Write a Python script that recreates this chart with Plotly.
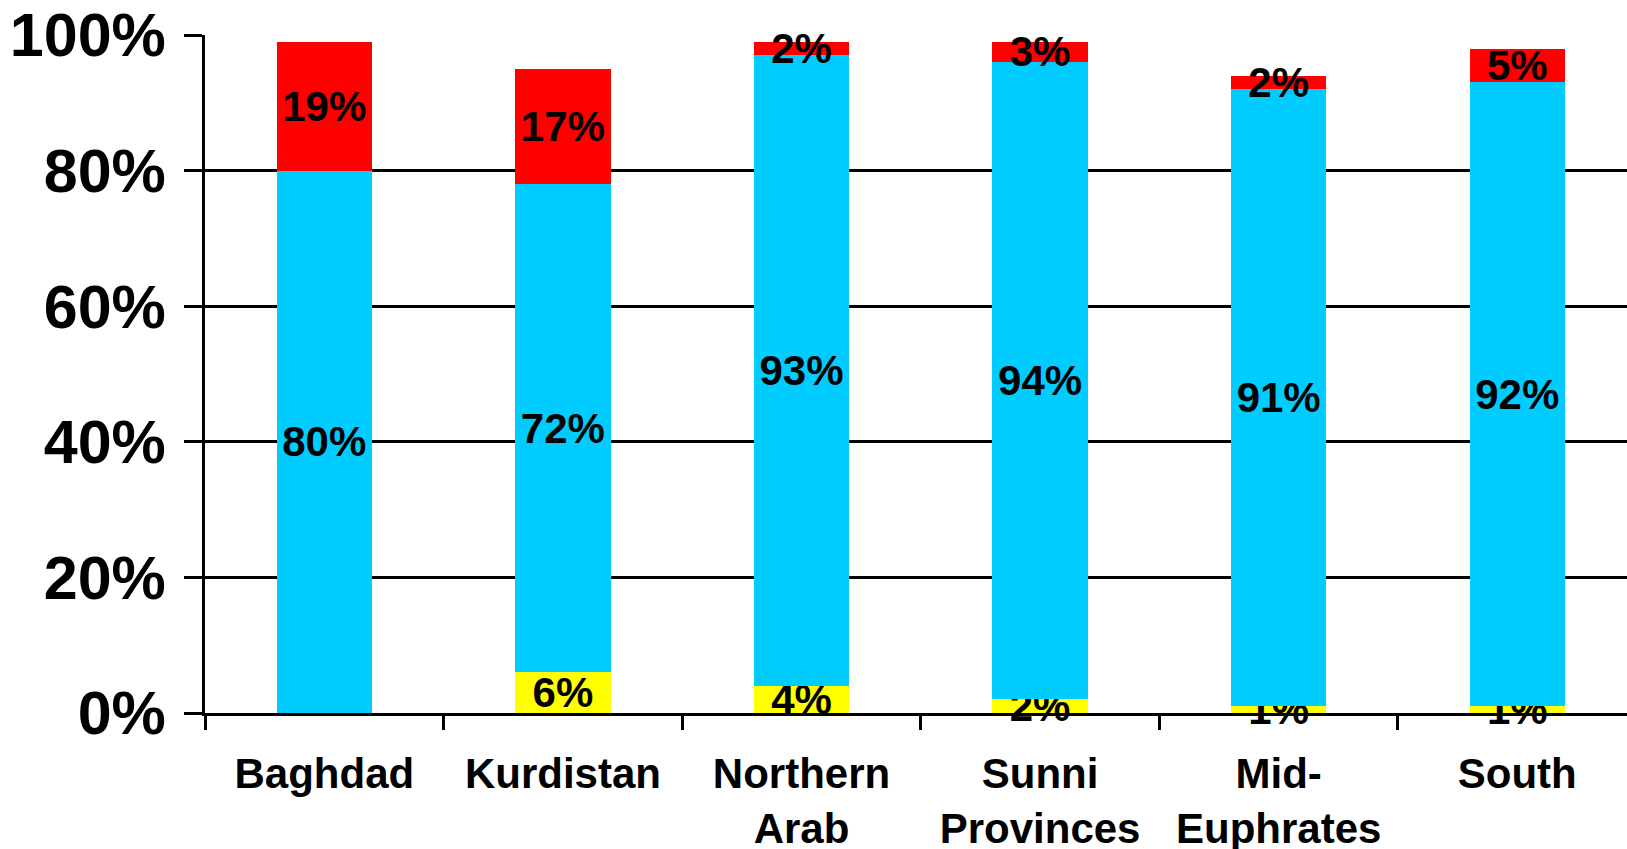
import plotly.graph_objects as go

regions = ["Baghdad", "Kurdistan", "Northern<br>Arab", "Sunni<br>Provinces", "Mid-<br>Euphrates", "South"]
bottom_share = [0, 6, 4, 2, 1, 1]
middle_share = [80, 72, 93, 94, 91, 92]
top_share = [19, 17, 2, 3, 2, 5]
y_ticks = [0, 20, 40, 60, 80, 100]

FONT = "Liberation Sans, Arial, sans-serif"


def labels(values):
    return [f"{v}%" if v else "" for v in values]


fig = go.Figure()
for vals, color in [(bottom_share, "#FFFF00"), (middle_share, "#00CCFF"), (top_share, "#FF0000")]:
    fig.add_trace(go.Bar(
        x=regions,
        y=vals,
        width=0.4,
        marker=dict(color=color, line=dict(width=0)),
        text=labels(vals),
        textposition="inside",
        insidetextanchor="middle",
        constraintext="none",
        textfont=dict(family=FONT, size=42, color="black", weight="bold"),
        textangle=0,
        cliponaxis=False,
        hoverinfo="skip",
    ))

fig.update_layout(
    barmode="stack",
    width=1627,
    height=849,
    margin=dict(l=205, r=0, t=35, b=136),
    plot_bgcolor="white",
    paper_bgcolor="white",
    showlegend=False,
    font=dict(family=FONT, color="black"),
)

fig.update_xaxes(
    range=[-0.5, 5.46],
    automargin=False,
    showline=True,
    linecolor="black",
    linewidth=3,
    ticks="outside",
    tickson="boundaries",
    ticklen=14,
    tickwidth=3,
    tickcolor="black",
    showgrid=False,
    ticklabelstandoff=22,
    tickfont=dict(family=FONT, size=42, color="black", weight="bold"),
)

fig.update_yaxes(
    range=[0, 100],
    automargin=False,
    tickvals=y_ticks,
    ticktext=[f"{v}%" for v in y_ticks],
    showline=True,
    linecolor="black",
    linewidth=3,
    ticks="outside",
    ticklen=18,
    tickwidth=3,
    tickcolor="black",
    showgrid=True,
    gridcolor="black",
    gridwidth=3,
    zeroline=False,
    ticklabelstandoff=6,
    tickfont=dict(family=FONT, size=61, color="black", weight="bold"),
)

fig.write_html("out.html")
